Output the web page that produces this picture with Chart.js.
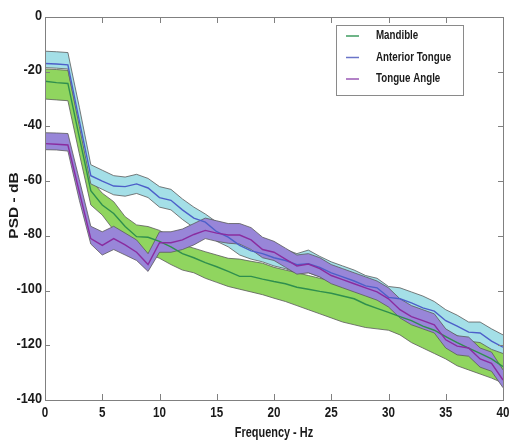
<!DOCTYPE html>
<html>
<head>
<meta charset="utf-8">
<script src="https://cdn.jsdelivr.net/npm/chart.js@4.4.1/dist/chart.umd.min.js"></script>
<style>
  html, body { margin: 0; padding: 0; background: #fff; }
</style>
</head>
<body>
<canvas id="psd" width="512" height="442"></canvas>
<script>
// frequency bins (Hz)
const freq = [0, 1, 2, 3, 4, 5, 6, 7, 8, 9, 10, 11, 12, 13, 14, 15, 16, 17, 18, 19, 20,
  21, 22, 23, 24, 25, 26, 27, 28, 29, 30, 31, 32, 33, 34, 35, 36, 37, 38, 39, 40];
const xTicks = [0, 5, 10, 15, 20, 25, 30, 35, 40];
const yTicks = [-140, -120, -100, -80, -60, -40, -20, 0];
const xTitle = 'Frequency - Hz';
const yTitle = 'PSD - dB';

// Mandible
const mandibleMean = [-23.5, -24, -24.3, -44, -63.5, -68.7, -71.8, -76.6, -80.3, -80.5, -82,
  -84, -86.5, -88, -89.8, -91.3, -93, -94.8, -94.8, -95.8, -96.7,
  -97.5, -98.8, -99.5, -100.3, -101, -102, -103, -105, -106.5, -108,
  -109.5, -111, -113, -114.5, -116.8, -119, -121, -123, -125, -127.8];
const mandibleUpper = [-19, -19.2, -19.5, -39, -59.5, -64.4, -67.5, -73, -76, -76.6, -78,
  -80.5, -83.3, -84.5, -85.8, -87, -88.2, -88.5, -89.3, -90, -91.5,
  -92.5, -93.5, -94.5, -95.5, -96.5, -97.5, -99, -101, -102.5, -104.5,
  -105.5, -107, -109, -110.5, -112.5, -114.5, -116.5, -118, -120, -121.7];
const mandibleLower = [-30, -30.3, -30.6, -50, -68.7, -72.4, -77.9, -85.8, -86.4, -86.4, -88.2,
  -90.5, -92.5, -93.5, -95.5, -97, -98.5, -99.5, -100.5, -101.5, -102.8,
  -104, -105.5, -107, -108.5, -110, -111.5, -112.5, -113.5, -114, -114.5,
  -116.2, -119, -121, -123, -125, -127.5, -129, -130.5, -132, -133.8];

// Anterior Tongue
const anteriorMean = [-17, -17.2, -17.5, -38, -58, -60, -61.8, -62, -61, -62.5, -66,
  -67, -70.5, -73.5, -75, -78.5, -80.5, -83.5, -85.5, -86.5, -88,
  -89, -90.5, -90.2, -91.5, -93.5, -95, -96.5, -98.3, -99, -102.5,
  -103, -104.5, -106.3, -107.5, -111, -113, -115.2, -115.5, -118.5, -120.7];
const anteriorUpper = [-12.5, -12.7, -13, -33, -54, -56, -58, -58.5, -57.5, -59, -62,
  -63, -66.5, -69.5, -72, -75, -77, -79.5, -81.5, -82.5, -84,
  -85, -86.5, -85.2, -87.5, -89.5, -91, -92.5, -94.5, -95.5, -98.5,
  -99, -100.5, -102, -104, -107, -109, -111.5, -111.5, -114, -116.2];
const anteriorLower = [-18.5, -18.7, -19, -40, -61, -63, -65, -65.5, -64.5, -66, -69.5,
  -70.5, -74, -77, -78.5, -82, -84, -87, -88.5, -89.5, -91,
  -92, -93.5, -93.5, -95, -97, -98.5, -100, -101.5, -102.5, -105.5,
  -106.5, -108, -110, -111.5, -114.5, -116.5, -118.5, -119, -121.5, -123];

// Tongue Angle
const angleMean = [-46.3, -46.5, -46.8, -64, -81, -83.5, -81, -83.3, -86, -90.5, -82.5,
  -82.5, -81.5, -79.5, -78, -79, -79.7, -79.7, -81.5, -85, -86,
  -88.5, -91, -90.3, -92, -94.5, -96, -97.5, -99, -100.5, -103,
  -107, -109.5, -111, -112.5, -118, -120.3, -121, -125, -126.6, -132.7];
const angleUpper = [-42.3, -42.4, -42.6, -59.5, -76.5, -78.5, -76.5, -79, -81.5, -86.5, -78.5,
  -78.5, -77.5, -75.5, -73.5, -74.5, -75.5, -75.5, -77, -80.5, -82,
  -84.5, -87, -86.5, -88, -90.5, -92, -93.5, -95, -96.5, -99,
  -103, -105.5, -107, -108.5, -114, -116.5, -117, -121, -122.5, -129];
const angleLower = [-48.5, -48.6, -49, -67, -83, -87, -85, -87, -89, -93, -86,
  -86, -85, -83.3, -81, -82, -82.7, -83, -85, -88, -89,
  -91.5, -94, -93.5, -95, -97.5, -99, -100.5, -102, -103.5, -106,
  -110, -112.5, -114, -115.5, -121, -123.5, -124, -128, -129.5, -135.5];

const seriesNames = ['Mandible', 'Anterior Tongue', 'Tongue Angle'];
const lineColors = ['#2f8f4e', '#4d5fc9', '#8a2c9f'];
const legendColors = ['#3f9d60', '#6a74c8', '#9a58b4'];
const fillColors = ['#90d55f', '#a4dfe7', '#9886d8'];
const edgeColor = '#5a5a5a';
const textColor = '#1a1a1a';

function pts(arr) {
  return freq.map((f, i) => ({ x: f, y: arr[i] }));
}

// two datasets per band: upper edge, then lower edge filled up to it
function band(upper, lower, color, order) {
  return [
    { data: pts(upper), borderColor: edgeColor, borderWidth: 0.8, pointRadius: 0, fill: false, order: order },
    { data: pts(lower), borderColor: edgeColor, borderWidth: 0.8, pointRadius: 0, fill: '-1', backgroundColor: color, order: order },
  ];
}

function meanLine(arr, color) {
  return { data: pts(arr), borderColor: color, borderWidth: 1.4, pointRadius: 0, fill: false, order: 0 };
}

const datasets = [
  meanLine(angleMean, lineColors[2]),
  meanLine(anteriorMean, lineColors[1]),
  meanLine(mandibleMean, lineColors[0]),
  ...band(angleUpper, angleLower, fillColors[2], 1),
  ...band(anteriorUpper, anteriorLower, fillColors[1], 2),
  ...band(mandibleUpper, mandibleLower, fillColors[0], 3),
];

// bold text squeezed sideways (the original uses a narrow face)
function drawText(ctx, text, x, y, size, sx, align, baseline, angle) {
  ctx.save();
  ctx.translate(x, y);
  if (angle) ctx.rotate(angle);
  ctx.scale(sx, 1);
  ctx.font = 'bold ' + size + 'px "Liberation Sans", Arial, sans-serif';
  ctx.fillStyle = textColor;
  ctx.textAlign = align;
  ctx.textBaseline = baseline;
  ctx.fillText(text, 0, 0);
  ctx.restore();
}

// box round the plot, inward ticks, tick labels, titles, legend
const framePlugin = {
  id: 'frame',
  afterDraw(chart) {
    const { ctx, chartArea: a, scales: { x, y } } = chart;
    ctx.save();
    ctx.strokeStyle = '#808080';
    ctx.lineWidth = 1;
    ctx.strokeRect(Math.round(a.left) + 0.5, Math.round(a.top) + 0.5,
      Math.round(a.right - a.left), Math.round(a.bottom - a.top));
    ctx.beginPath();
    xTicks.forEach(v => {
      const px = Math.round(x.getPixelForValue(v)) + 0.5;
      ctx.moveTo(px, a.bottom); ctx.lineTo(px, a.bottom - 6);
      ctx.moveTo(px, a.top); ctx.lineTo(px, a.top + 6);
    });
    yTicks.forEach(v => {
      const py = Math.round(y.getPixelForValue(v)) + 0.5;
      ctx.moveTo(a.left, py); ctx.lineTo(a.left + 5, py);
      ctx.moveTo(a.right, py); ctx.lineTo(a.right - 5, py);
    });
    ctx.stroke();

    xTicks.forEach(v => {
      drawText(ctx, String(v), x.getPixelForValue(v), a.bottom + 16.5, 15.5, 0.75, 'center', 'alphabetic');
    });
    yTicks.forEach(v => {
      drawText(ctx, String(v), a.left - 3, y.getPixelForValue(v) - 1.5, 15, 0.85, 'right', 'middle');
    });
    drawText(ctx, xTitle, (a.left + a.right) / 2, 437, 14, 0.78, 'center', 'alphabetic');
    drawText(ctx, yTitle, 15, (a.top + a.bottom) / 2 - 3, 12.5, 1.24, 'center', 'middle', -Math.PI / 2);

    // legend
    const lx = 336, ly = 25, lw = 127, lh = 70;
    ctx.fillStyle = '#fff';
    ctx.fillRect(lx, ly, lw, lh);
    ctx.strokeStyle = '#8a8a8a';
    ctx.lineWidth = 1;
    ctx.strokeRect(lx + 0.5, ly + 0.5, lw, lh);
    seriesNames.forEach((name, i) => {
      const rowY = ly + 11 + i * 21.5;
      ctx.strokeStyle = legendColors[i];
      ctx.lineWidth = 1.5;
      ctx.beginPath();
      ctx.moveTo(lx + 10, rowY); ctx.lineTo(lx + 23, rowY);
      ctx.stroke();
      drawText(ctx, name, lx + 40, rowY, 12.5, 0.78, 'left', 'middle');
    });
    ctx.restore();
  },
};

new Chart(document.getElementById('psd'), {
  type: 'line',
  data: { datasets: datasets },
  options: {
    responsive: false,
    animation: false,
    layout: { padding: { top: 17, right: 9, left: 0, bottom: 0 } },
    plugins: {
      legend: { display: false },
      tooltip: { enabled: false },
      filler: { propagate: false },
    },
    elements: { line: { tension: 0 } },
    scales: {
      x: {
        type: 'linear',
        min: 0,
        max: 40,
        grid: { display: false },
        border: { display: false },
        ticks: { display: false },
        afterFit: s => { s.height = 42; },
      },
      y: {
        type: 'linear',
        min: -140,
        max: 0,
        grid: { display: false },
        border: { display: false },
        ticks: { display: false },
        afterFit: s => { s.width = 45; },
      },
    },
  },
  plugins: [framePlugin],
});
</script>
</body>
</html>
